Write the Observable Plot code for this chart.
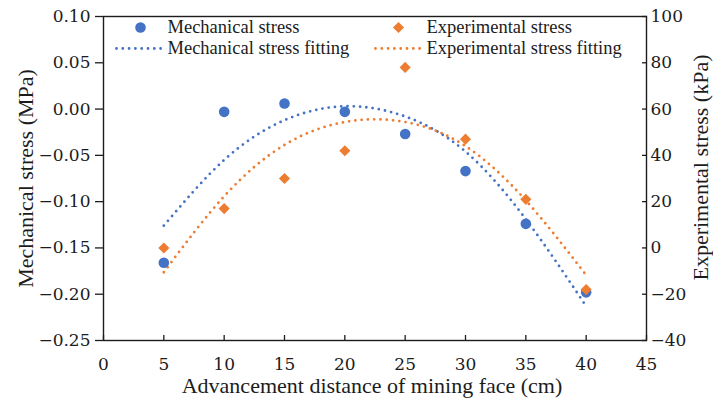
<!DOCTYPE html>
<html>
<head>
<meta charset="utf-8">
<script src="https://cdn.jsdelivr.net/npm/d3@7"></script>
<script src="https://cdn.jsdelivr.net/npm/@observablehq/plot@0.6"></script>
<style>
  html, body { margin: 0; padding: 0; background: #fff; }
  #chart { width: 713px; height: 401px; }
</style>
</head>
<body>
<div id="chart"></div>
<script>
// ---- data ----
const distances = [5, 10, 15, 20, 25, 30, 35, 40];                 // cm
const mechanicalStress = [-0.166, -0.003, 0.006, -0.003, -0.027, -0.067, -0.124, -0.198]; // MPa
const experimentalStress = [0, 17, 30, 42, 78, 47, 21, -18];        // kPa
const mechanicalFit = [-0.126, -0.055, -0.012, 0.003, -0.008, -0.046, -0.119, -0.213];   // MPa
const experimentalFit = [-10.5, 22.3, 44.5, 54.4, 54.4, 44, 20.5, -11.8];               // kPa
const xTicks = [0, 5, 10, 15, 20, 25, 30, 35, 40, 45];
const leftTicks = [-0.25, -0.20, -0.15, -0.10, -0.05, 0.00, 0.05, 0.10];
const rightTicks = [-40, -20, 0, 20, 40, 60, 80, 100];
const leftDomain = [-0.25, 0.10];
const rightDomain = [-40, 100];

const legendLabels = ["Mechanical stress", "Mechanical stress fitting", "Experimental stress", "Experimental stress fitting"];
const xTitle = "Advancement distance of mining face (cm)";
const yLeftTitle = "Mechanical stress (MPa)";
const yRightTitle = "Experimental stress (kPa)";

// ---- helpers ----
const BLUE = "#4472C4", ORANGE = "#ED7D31", INK = "#1c1c1c";
const toLeft = k => leftDomain[0] + (k - rightDomain[0]) * (leftDomain[1] - leftDomain[0]) / (rightDomain[1] - rightDomain[0]);
const fromLeft = v => Math.round(rightDomain[0] + (v - leftDomain[0]) * (rightDomain[1] - rightDomain[0]) / (leftDomain[1] - leftDomain[0]));
const minus = s => s.replace("-", "\u2212");

const mech = distances.map((x, i) => ({x, y: mechanicalStress[i]}));
const exp = distances.map((x, i) => ({x, y: toLeft(experimentalStress[i])}));
const mechF = distances.map((x, i) => ({x, y: mechanicalFit[i]}));
const expF = distances.map((x, i) => ({x, y: toLeft(experimentalFit[i])}));

const TEXT_FONT = "'Liberation Serif', 'Times New Roman', serif";
const lineShape = {draw(context, l) { context.moveTo(0, 0); context.lineTo(0, -l); }};
const dotted = {strokeWidth: 2.8, strokeDasharray: "0 6.3", strokeLinecap: "round"};

const chart = Plot.plot({
  width: 713,
  height: 401,
  marginLeft: 103,
  marginRight: 67,
  marginTop: 16,
  marginBottom: 61,
  x: {domain: [0, 45]},
  y: {domain: leftDomain},
  style: {fontFamily: "'DejaVu Serif', serif", fontSize: "17px", background: "#fff", color: INK},
  marks: [
    Plot.frame({stroke: INK, strokeWidth: 1.4}),
    Plot.axisX({ticks: xTicks, tickSize: -5, tickPadding: 22, label: null, tickFormat: d => String(d), strokeWidth: 1.3}),
    Plot.axisY({ticks: leftTicks, tickSize: 8, tickPadding: 5, label: null, tickFormat: d => minus(d.toFixed(2)), strokeWidth: 1.3}),
    Plot.axisY({anchor: "right", ticks: rightTicks.map(toLeft), tickSize: -5, tickPadding: 9, label: null,
      tickFormat: v => minus(String(fromLeft(v))), strokeWidth: 1.3}),

    // fitted curves
    Plot.line(mechF, {x: "x", y: "y", curve: "natural", stroke: BLUE, ...dotted}),
    Plot.line(expF, {x: "x", y: "y", curve: "natural", stroke: ORANGE, ...dotted}),

    // observations
    Plot.dot(mech, {x: "x", y: "y", r: 5.3, fill: BLUE}),
    Plot.dot(exp, {x: "x", y: "y", r: 5, symbol: "diamond2", fill: ORANGE}),

    // legend
    Plot.dot([0], {frameAnchor: "top-left", dx: 37, dy: 11, r: 5.3, fill: BLUE}),
    Plot.text([legendLabels[0]], {frameAnchor: "top-left", dx: 64, dy: 11, textAnchor: "start", lineAnchor: "middle", fontFamily: TEXT_FONT, fontSize: 18.5, fill: INK}),
    Plot.vector([0], {frameAnchor: "top-left", dx: 13, dy: 32, length: 47, rotate: 90, anchor: "start", shape: lineShape, stroke: BLUE, ...dotted}),
    Plot.text([legendLabels[1]], {frameAnchor: "top-left", dx: 64, dy: 32, textAnchor: "start", lineAnchor: "middle", fontFamily: TEXT_FONT, fontSize: 18.5, fill: INK}),
    Plot.dot([0], {frameAnchor: "top-left", dx: 295, dy: 11, r: 5, symbol: "diamond2", fill: ORANGE}),
    Plot.text([legendLabels[2]], {frameAnchor: "top-left", dx: 323, dy: 11, textAnchor: "start", lineAnchor: "middle", fontFamily: TEXT_FONT, fontSize: 18.5, fill: INK}),
    Plot.vector([0], {frameAnchor: "top-left", dx: 272, dy: 32, length: 47, rotate: 90, anchor: "start", shape: lineShape, stroke: ORANGE, ...dotted}),
    Plot.text([legendLabels[3]], {frameAnchor: "top-left", dx: 323, dy: 32, textAnchor: "start", lineAnchor: "middle", fontFamily: TEXT_FONT, fontSize: 18.5, fill: INK}),

    // axis titles
    Plot.text([xTitle], {frameAnchor: "bottom", dx: -3, dy: 45.5, textAnchor: "middle", lineAnchor: "middle", fontFamily: TEXT_FONT, fontSize: 22, fill: INK}),
    Plot.text([yLeftTitle], {frameAnchor: "left", dx: -78, rotate: -90, textAnchor: "middle", lineAnchor: "middle", fontFamily: TEXT_FONT, fontSize: 22, fill: INK}),
    Plot.text([yRightTitle], {frameAnchor: "right", dx: 54, dy: -11, rotate: -90, textAnchor: "middle", lineAnchor: "middle", fontFamily: TEXT_FONT, fontSize: 22, fill: INK})
  ]
});
document.getElementById("chart").append(chart);
</script>
</body>
</html>
